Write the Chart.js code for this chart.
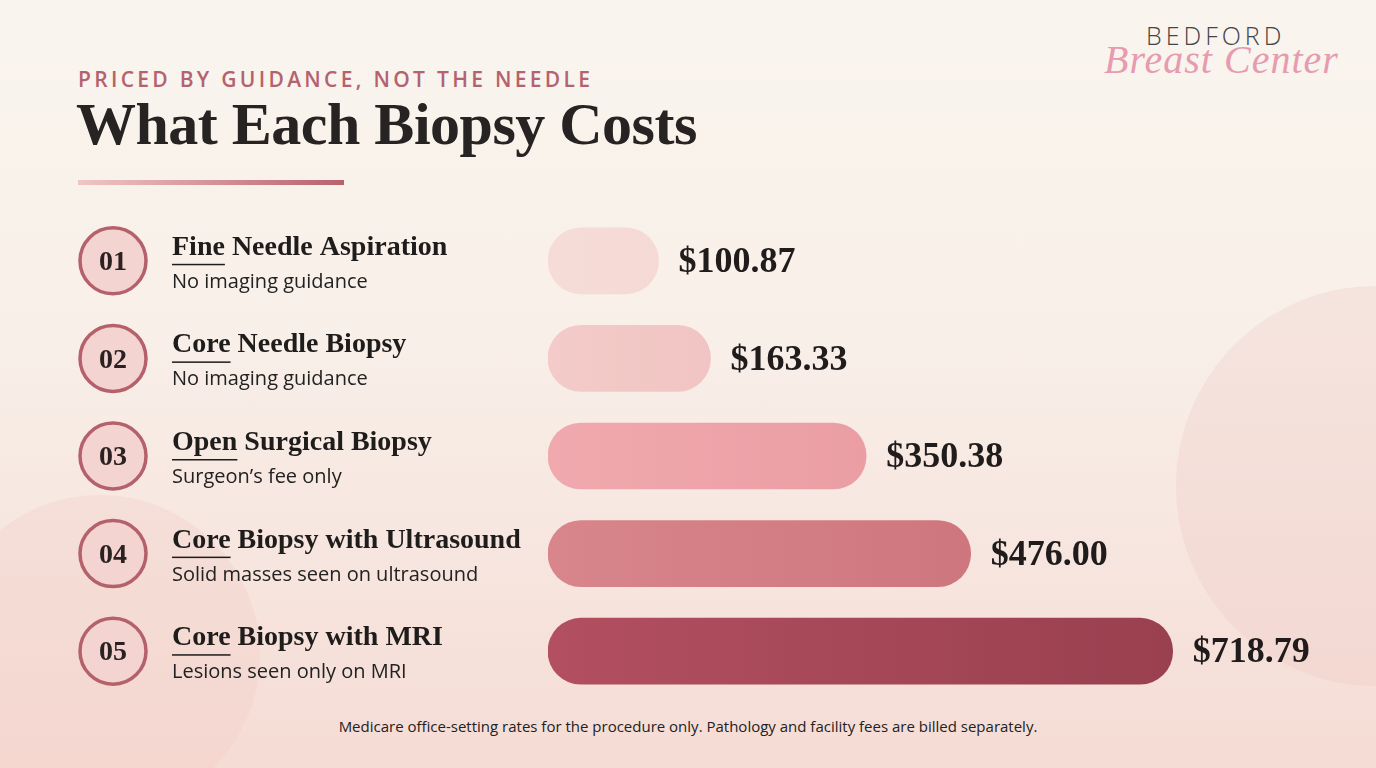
<!DOCTYPE html>
<html><head><meta charset="utf-8">
<script src="https://cdn.jsdelivr.net/npm/chart.js@4/dist/chart.umd.min.js"></script>
<style>
html,body{margin:0;padding:0;width:1376px;height:768px;overflow:hidden}
body{background:linear-gradient(180deg,#f9f5ee 0%,#f8efe8 45%,#f5dcd5 100%);position:relative;font-family:"Open Sans",sans-serif}
.deco1{position:absolute;left:1176px;top:286px;width:400px;height:400px;border-radius:50%;background:rgba(240,200,195,0.3)}
.deco2{position:absolute;left:-60px;top:495px;width:320px;height:320px;border-radius:50%;background:rgba(240,200,195,0.28)}
#kick{position:absolute;left:78px;top:65px;font:600 21px "Open Sans",sans-serif;letter-spacing:3.3px;color:#b4626f}
#title{position:absolute;left:76px;top:90px;font:bold 60px "Liberation Serif",serif;color:#262322;letter-spacing:-0.5px}
#rule{position:absolute;left:78px;top:180px;width:266px;height:5px;background:linear-gradient(90deg,#f0c6c3,#b9606c)}
#logo1{position:absolute;left:1146px;top:18px;font:300 25px "Open Sans",sans-serif;letter-spacing:4px;color:#444}
#logo2{position:absolute;left:1104px;top:36px;font:italic 40px "Liberation Serif",serif;color:#e79bb0;letter-spacing:1px}
#foot{position:absolute;left:0;width:1376px;top:716px;text-align:center;font:15px "Open Sans",sans-serif;color:#222}
canvas{position:absolute;left:0;top:0}
</style></head><body>
<div class="deco1"></div><div class="deco2"></div>
<div id="kick">PRICED BY GUIDANCE, NOT THE NEEDLE</div>
<div id="title">What Each Biopsy Costs</div>
<div id="rule"></div>
<div id="logo1">BEDFORD</div>
<div id="logo2">Breast Center</div>
<div id="foot">Medicare office-setting rates for the procedure only. Pathology and facility fees are billed separately.</div>
<div style="position:absolute;left:0;top:0;width:1376px;height:768px"><canvas id="c"></canvas></div>
<script>
const numbers = ["01","02","03","04","05"];
const procedures = ["Fine Needle Aspiration","Core Needle Biopsy","Open Surgical Biopsy","Core Biopsy with Ultrasound","Core Biopsy with MRI"];
const notes = ["No imaging guidance","No imaging guidance","Surgeon\u2019s fee only","Solid masses seen on ultrasound","Lesions seen only on MRI"];
const costs = [100.87,163.33,350.38,476.00,718.79];
const valueLabels = ["$100.87","$163.33","$350.38","$476.00","$718.79"];
const colorsA = ["#f6dcd7","#f3cbc8","#f0a9ae","#d8858b","#b24f60"];
const colorsB = ["#efcac6","#e9b0b2","#e4929a","#c96e77","#983f4e"];

const labelPlugin = {
  id:'labels',
  afterDraw(chart){
    const c=chart.ctx, y=chart.scales.y;
    chart.data.labels.forEach((lab,i)=>{
      const cy=y.getPixelForValue(i);
      c.save();
      c.beginPath();c.arc(113,cy,33,0,Math.PI*2);
      c.fillStyle='#f3d4d0';c.fill();
      c.lineWidth=3.5;c.strokeStyle='#b5616c';c.stroke();
      c.fillStyle='#2a2222';c.font='bold 28px "Liberation Serif",serif';
      c.textAlign='center';c.textBaseline='middle';
      c.fillText(numbers[i],113,cy+2);
      c.textAlign='left';c.textBaseline='alphabetic';
      c.font='bold 28px "Liberation Serif",serif';c.fillStyle='#1f1c1c';
      c.fillText(procedures[i],172,cy-6);
      const w=c.measureText(procedures[i].split(' ')[0]).width;
      c.fillRect(172,cy+3,w,1.5);
      c.font='20px "Open Sans",sans-serif';c.fillStyle='#222';
      c.fillText(notes[i],172,cy+27);
      const bar=chart.getDatasetMeta(0).data[i];
      c.font='bold 36px "Liberation Serif",serif';c.fillStyle='#201c1c';
      c.textBaseline='middle';
      c.fillText(valueLabels[i],bar.x+20,cy+2);
      c.restore();
    });
  }
};
new Chart(document.getElementById('c'),{
  type:'bar',
  data:{labels:procedures,datasets:[{data:costs,base:-32,
    backgroundColor:(ctx)=>{
      const ca=ctx.chart.chartArea; if(!ca) return colorsA[ctx.dataIndex];
      const g=ctx.chart.ctx.createLinearGradient(ca.left,0,ca.right,0);
      g.addColorStop(0,colorsA[ctx.dataIndex]);g.addColorStop(1,colorsB[ctx.dataIndex]);return g;},
    barThickness:66,borderRadius:33,borderSkipped:false}]},
  options:{indexAxis:'y',responsive:true,maintainAspectRatio:false,animation:false,
    layout:{padding:{left:548,right:169,top:212,bottom:68}},
    plugins:{legend:{display:false},tooltip:{enabled:false}},
    scales:{x:{display:false,min:-32,max:760},y:{display:false}}},
  plugins:[labelPlugin]
});
</script></body></html>
